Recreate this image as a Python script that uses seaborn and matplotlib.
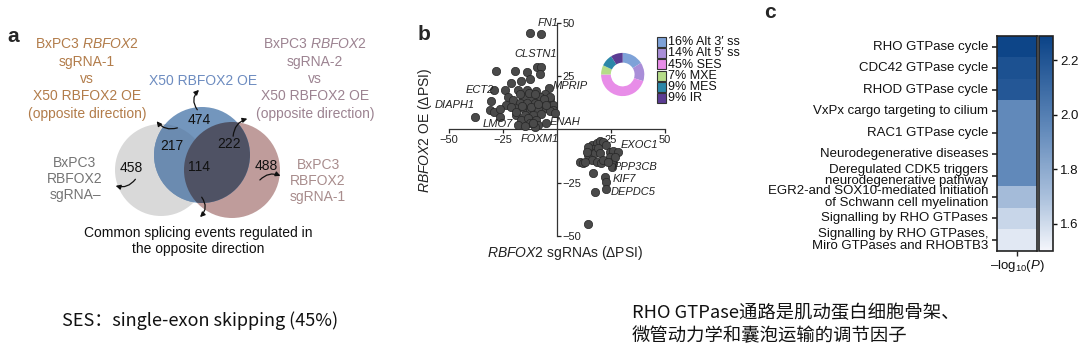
import matplotlib
matplotlib.use("Agg")
import matplotlib.pyplot as plt
from matplotlib.patches import Circle, Rectangle
from matplotlib.colors import LinearSegmentedColormap
import pandas as pd
import seaborn as sns

# --- panel a: Venn counts (regions) ---
venn_counts = [474, 217, 222, 114, 458, 488]

# --- panel b: splicing events, upper-left group (sgRNA dPSI, OE dPSI) ---
up_sg = [-12.6, -7.2, -9.2, -7.2, -8.0, -28.4, -19.6, -13.9, -21.4, -16.5,
         -12.3, -29.2, -23.9, -18.0, -13.9, -9.5, -3.8, -5.5, -30.4, -22.7,
         -23.4, -20.4, -15.7, -11.8, -8.0, -17.2, -14.1, -10.3, -6.4, -3.3,
         -1.8, -31.2, -29.2, -26.2, -38.1, -26.5, -19.6, -15.7, -12.6, -8.8,
         -4.9, -1.8, -18.8, -14.9, -11.1, -7.2, -3.3, -16.5, -13.4, -9.5,
         -12.6, -8.8, -21.1, -1.0, -18.0, -14.9, -4.9, -10.3, -3.3,
         -17.0, -13.0, -10.0, -6.0, -19.0, -16.0, -12.0, -9.0, -5.0,
         -11.0]
up_oe = [45.3, 44.7, 29.3, 29.1, 25.9, 27.3, 27.3, 26.7, 21.9, 22.8,
         23.6, 18.4, 18.4, 18.4, 18.4, 18.0, 19.2, 16.5, 13.4, 15.0,
         11.4, 13.7, 15.0, 15.0, 15.0, 12.2, 12.2, 12.2, 12.9, 13.7,
         11.4, 9.0, 8.3, 9.4, 5.9, 5.9, 9.8, 9.8, 9.0, 9.8,
         9.8, 9.0, 6.7, 6.7, 6.7, 7.2, 8.5, 4.4, 5.2, 4.4,
         2.8, 2.0, 10.6, 7.5, 2.0, 1.5, 2.8, 0.9, 15.3,
         16.5, 17.0, 16.5, 14.0, 8.0, 11.0, 10.5, 12.0, 11.5,
         3.0]
# lower-right group
dn_sg = [16.0, 18.3, 19.8, 21.4, 16.7, 15.2, 14.4, 17.5, 22.9, 24.5,
         26.0, 28.3, 24.5, 25.3, 26.0, 10.6, 12.1, 16.0, 18.3, 20.6,
         25.3, 16.7, 22.2, 22.9, 17.5, 22.9, 14.4, 14.4, 19.1, 26.8,
         19.8, 12.9, 21.4, 23.7, 13.7]
dn_oe = [-7.4, -6.6, -5.3, -5.8, -9.4, -10.5, -12.0, -11.3, -7.4, -10.5,
         -10.0, -10.5, -12.8, -15.2, -16.0, -15.2, -16.0, -14.4, -15.2, -16.0,
         -17.5, -20.6, -22.2, -24.6, -29.3, -28.1, -44.4, -8.2, -8.9, -12.8,
         -11.3, -15.2, -14.4, -15.2, -10.5]

genes = ["FN1", "CLSTN1", "MPRIP", "ECT2", "DIAPH1", "LMO7", "ENAH", "FOXM1",
         "EXOC1", "PPP3CB", "KIF7", "DEPDC5"]
gene_x = [-4.1, -9.8, 5.9, -35.8, -47.4, -27.5, 3.5, -8.0, 38.1, 36.5, 31.1, 35.3]
gene_y = [50.0, 35.3, 20.3, 18.4, 11.4, 2.3, 3.6, -4.7, -7.4, -17.5, -23.3, -29.5]

# inset donut: splicing types
splice_types = ["Alt 3\u2032 ss", "Alt 5\u2032 ss", "SES", "MXE", "MES", "IR"]
splice_pct = [16, 14, 45, 7, 9, 9]
splice_colors = ["#7ea2d8", "#a98ed8", "#e88de8", "#b5dc88", "#2b87a8", "#5b3c93"]

# --- panel c: pathway enrichment ---
pathways = ["RHO GTPase cycle", "CDC42 GTPase cycle", "RHOD GTPase cycle",
            "VxPx cargo targeting to cilium", "RAC1 GTPase cycle",
            "Neurodegenerative diseases",
            "Deregulated CDK5 triggers\nneurodegenerative pathway",
            "EGR2-and SOX10-mediated initiation\nof Schwann cell myelination",
            "Signalling by RHO GTPases",
            "Signalling by RHO GTPases,\nMiro GTPases and RHOBTB3"]
pathway_logp = [2.28, 2.22, 2.19, 1.95, 1.95, 1.95, 1.95, 1.72, 1.62, 1.55]

sns.set_theme(style="ticks")
plt.rcParams["font.family"] = ["Liberation Sans", "DejaVu Sans"]
plt.rcParams["mathtext.fontset"] = "custom"
plt.rcParams["mathtext.rm"] = "Liberation Sans"
plt.rcParams["mathtext.it"] = "Liberation Sans:italic"
plt.rcParams["mathtext.bf"] = "Liberation Sans:bold"

W, H = 1080, 359
fig = plt.figure(figsize=(10.8, 3.59), dpi=100)
bg = fig.add_axes([0, 0, 1, 1])
bg.set_xlim(0, W)
bg.set_ylim(H, 0)
bg.axis("off")


def box(x0, y0, x1, y1):
    # pixel box -> figure fraction rect
    return [x0 / W, 1 - y1 / H, (x1 - x0) / W, (y1 - y0) / H]


# ================= panel a =================
bg.text(13, 36, "a", fontsize=15, weight="bold", ha="center", va="center")
gray_c = Circle((161, 170), 46, fc="#d9d9d9", ec="none")
pink_c = Circle((232, 170), 48, fc="#bf9c9b", ec="none")
blue_c = Circle((202, 155), 48, fc="#7396bd", ec="none")
for p in [gray_c, pink_c, blue_c]:
    bg.add_patch(p)
gb = Circle((161, 170), 46, fc="#6b8bb0", ec="none")
bg.add_patch(gb)
gb.set_clip_path(blue_c)
bp = Circle((232, 170), 48, fc="#4f5264", ec="none")
bg.add_patch(bp)
bp.set_clip_path(blue_c)

venn_xy = [(199, 120), (172, 146), (229, 144), (199, 167), (131, 168), (266, 166)]
for n, (x, y) in zip(venn_counts, venn_xy):
    bg.text(x, y, str(n), fontsize=10, ha="center", va="center", color="#111111")

bg.text(87, 79, "BxPC3 $\\it{RBFOX2}$\nsgRNA-1\nvs\nX50 RBFOX2 OE\n(opposite direction)",
        fontsize=10, ha="center", va="center", color="#b27c4a", linespacing=1.3)
bg.text(315, 79, "BxPC3 $\\it{RBFOX2}$\nsgRNA-2\nvs\nX50 RBFOX2 OE\n(opposite direction)",
        fontsize=10, ha="center", va="center", color="#9c8391", linespacing=1.3)
bg.text(203, 81, "X50 RBFOX2 OE", fontsize=10, ha="center", va="center", color="#6d8cc0")
bg.text(75, 179, "BxPC3\nRBFOX2\nsgRNA\u2013", fontsize=10, ha="center", va="center",
        color="#747474", linespacing=1.2)
bg.text(318, 181, "BxPC3\nRBFOX2\nsgRNA-1", fontsize=10, ha="center", va="center",
        color="#a88c8c", linespacing=1.2)
bg.text(198, 241, "Common splicing events regulated in\nthe opposite direction",
        fontsize=10, ha="center", va="center", color="#111111", linespacing=1.25)

arrows = [((199, 112), (201, 88), -0.5), ((180, 127), (155, 119), -0.4),
          ((233, 139), (250, 118), -0.4), ((137, 177), (113, 185), -0.4),
          ((258, 182), (283, 177), -0.4), ((200, 195), (198, 219), -0.5)]
for (x0, y0), (x1, y1), r in arrows:
    bg.annotate("", xy=(x1, y1), xytext=(x0, y0),
                arrowprops=dict(arrowstyle="-|>", color="#111111", lw=0.9,
                                mutation_scale=7,
                                connectionstyle=f"arc3,rad={r}"))

# ================= panel b =================
bg.text(424, 34, "b", fontsize=15, weight="bold", ha="center", va="center")
ax_b = fig.add_axes(box(449, 22.7, 665, 236))
ax_b.patch.set_alpha(0)
pts = pd.DataFrame({"sg": up_sg + dn_sg, "oe": up_oe + dn_oe})
sns.scatterplot(data=pts, x="sg", y="oe", ax=ax_b, s=36, color="#4a4a4a",
                edgecolor="#262626", linewidth=0.5, zorder=3, clip_on=False)
ax_b.set_xlim(-50, 50)
ax_b.set_ylim(-50, 50)
ax_b.spines["top"].set_visible(False)
ax_b.spines["left"].set_visible(False)
ax_b.spines["bottom"].set_position(("data", 0))
ax_b.spines["right"].set_position(("data", 0))
for s in ["bottom", "right"]:
    ax_b.spines[s].set_linewidth(0.9)
    ax_b.spines[s].set_color("#333333")
ax_b.yaxis.set_ticks_position("right")
ax_b.xaxis.set_ticks_position("bottom")
ax_b.set_xticks([-50, -25, 25, 50])
ax_b.set_yticks([-50, -25, 25, 50])
ax_b.set_xticklabels(["\u221250", "\u221225", "25", "50"])
ax_b.set_yticklabels(["\u221250", "\u221225", "25", "50"])
ax_b.tick_params(length=3, width=0.9, labelsize=8, pad=1, colors="#222222")
ax_b.set_xlabel("")
ax_b.set_ylabel("")
for g, x, y in zip(genes, gene_x, gene_y):
    ax_b.text(x, y, g, fontsize=8, style="italic", ha="center", va="center",
              color="#222222", zorder=5)
bg.text(425, 130, "$\\it{RBFOX2}$ OE (\u0394PSI)", fontsize=10, rotation=90,
        ha="center", va="center", color="#222222")
bg.text(565, 253, "$\\it{RBFOX2}$ sgRNAs (\u0394PSI)", fontsize=10,
        ha="center", va="center", color="#222222")

ax_d = fig.add_axes(box(595.7, 47.5, 649.7, 101.5))
ax_d.pie(splice_pct, colors=splice_colors, startangle=90, counterclock=False,
         wedgeprops=dict(width=0.45, edgecolor="none"))
for i, (lab, pct, col) in enumerate(zip(splice_types, splice_pct, splice_colors)):
    y = 37 + i * 11.2
    bg.add_patch(Rectangle((656.5, y), 9.5, 10, fc=col, ec="#333333", lw=0.8))
    bg.text(668.5, y + 5.2, f"{pct}% {lab}", fontsize=9, ha="left", va="center",
            color="#111111")

# ================= panel c =================
bg.text(770, 13, "c", fontsize=15, weight="bold", ha="center", va="center")
ax_c = fig.add_axes(box(997.3, 36, 1037.3, 250.7))
cax = fig.add_axes(box(1039.3, 36, 1053.3, 250.7))
df = pd.DataFrame({"logp": pathway_logp}, index=pathways)
cmap = LinearSegmentedColormap.from_list(
    "gtp", [(0.0, "#f4f6fb"), (0.25, "#aac0dc"), (0.57, "#6189ba"), (1.0, "#0b4387")])
sns.heatmap(df, ax=ax_c, cbar_ax=cax, cmap=cmap, vmin=1.5, vmax=2.29,
            xticklabels=False, yticklabels=True)
ax_c.set_yticks([i + 0.5 for i in range(len(pathways))])
ax_c.set_yticklabels(pathways, fontsize=9.5, linespacing=0.92, rotation=0,
                     multialignment="right", color="#111111")
ax_c.set_xticks([0.5])
ax_c.set_xticklabels(["\u2013log$_{10}$($\\it{P}$)"], fontsize=9.5, color="#111111")
ax_c.set_ylabel("")
ax_c.tick_params(axis="y", left=True, length=3.5, width=1.2, pad=3)
ax_c.tick_params(axis="x", bottom=True, length=3.5, width=1.0, pad=2)
for s in ax_c.spines.values():
    s.set_visible(True)
    s.set_linewidth(1.2)
    s.set_color("#222222")
cbar = ax_c.collections[0].colorbar
cbar.set_ticks([1.6, 1.8, 2.0, 2.2])
cbar.set_ticklabels(["1.6", "1.8", "2.0", "2.2"])
cbar.outline.set_linewidth(1.2)
cbar.outline.set_edgecolor("#222222")
cax.tick_params(labelsize=9.5, length=3, width=1.0, pad=2, colors="#111111")

# ================= bottom notes =================
cjk = ["Noto Sans CJK SC", "DejaVu Sans"]
bg.text(62, 321, "SES\uff1asingle-exon skipping (45%)", fontsize=13, family=cjk,
        ha="left", va="center", color="#111111")
bg.text(632, 313, "RHO GTPase通路是肌动蛋白细胞骨架、", fontsize=13.2, family=cjk,
        ha="left", va="center", color="#111111")
bg.text(632, 336, "微管动力学和囊泡运输的调节因子", fontsize=13.2, family=cjk,
        ha="left", va="center", color="#111111")

fig.savefig("out.png", dpi=100, facecolor="white")
